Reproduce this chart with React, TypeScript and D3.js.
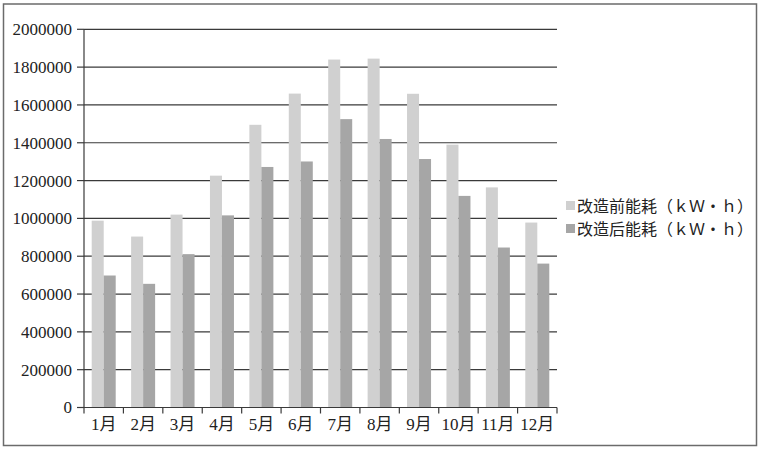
import React from "react";
import * as d3 from "d3";

const months = ["1月", "2月", "3月", "4月", "5月", "6月", "7月", "8月", "9月", "10月", "11月", "12月"];
const before = [988000, 904000, 1020000, 1226000, 1495000, 1660000, 1840000, 1845000, 1659000, 1390000, 1164000, 978000];
const after = [698000, 654000, 811000, 1016000, 1272000, 1301000, 1525000, 1420000, 1314000, 1119000, 846000, 761000];
const yTicks = [0, 200000, 400000, 600000, 800000, 1000000, 1200000, 1400000, 1600000, 1800000, 2000000];
const seriesNames = ["改造前能耗（ｋＷ・ｈ）", "改造后能耗（ｋＷ・ｈ）"];
const colors = ["#d0d0d0", "#a6a6a6"];

const W = 760, H = 449;
const left = 84, right = 557, top = 29.3, bottom = 407.5;
const font = "'Liberation Serif', 'Noto Sans CJK SC', serif";

export default function App() {
  const x = d3.scaleBand<string>().domain(months).range([left, right]).paddingInner(0).paddingOuter(0);
  const y = d3.scaleLinear().domain([0, 2000000]).range([bottom, top]);
  const bw = x.bandwidth();
  const barW = 12;
  const groupOff = (bw - barW * 2) / 2;
  return (
    <svg width={W} height={H} style={{ position: "absolute", left: 0, top: 0, background: "#fff" }}>
      <rect x={3.5} y={4} width={753} height={441.5} fill="#fff" stroke="#6b6b6b" strokeWidth={1.5} />
      {yTicks.map((t) => (
        <g key={t}>
          {t > 0 && <line x1={left} x2={right} y1={y(t)} y2={y(t)} stroke="#3a3a3a" strokeWidth={1.2} />}
          <line x1={left - 7} x2={left} y1={y(t)} y2={y(t)} stroke="#3a3a3a" strokeWidth={1.2} />
          <text x={left - 12} y={y(t)} dy="0.35em" textAnchor="end" fontFamily={font} fontSize={17} fill="#222">
            {t}
          </text>
        </g>
      ))}
      {months.map((m, i) => (
        <g key={m}>
          <rect x={(x(m) as number) + groupOff} y={y(before[i])} width={barW} height={bottom - y(before[i])} fill={colors[0]} />
          <rect x={(x(m) as number) + groupOff + barW} y={y(after[i])} width={barW} height={bottom - y(after[i])} fill={colors[1]} />
        </g>
      ))}
      <line x1={left} x2={left} y1={top} y2={bottom} stroke="#3a3a3a" strokeWidth={1.2} />
      <line x1={left} x2={right} y1={bottom} y2={bottom} stroke="#3a3a3a" strokeWidth={1.2} />
      {months.map((m) => (
        <line key={"t" + m} x1={(x(m) as number) + bw} x2={(x(m) as number) + bw} y1={bottom} y2={bottom + 6} stroke="#3a3a3a" strokeWidth={1.2} />
      ))}
      <line x1={left} x2={left} y1={bottom} y2={bottom + 6} stroke="#3a3a3a" strokeWidth={1.2} />
      {months.map((m) => (
        <text key={"l" + m} x={(x(m) as number) + bw / 2} y={430} textAnchor="middle" fontFamily={font} fontSize={17} fill="#222">
          {m}
        </text>
      ))}
      {seriesNames.map((s, i) => (
        <g key={s}>
          <rect x={566} y={201 + i * 23} width={9} height={9} fill={colors[i]} />
          <text x={577} y={206 + i * 23} dy="0.35em" fontFamily={font} fontSize={16} fill="#222">
            {s}
          </text>
        </g>
      ))}
    </svg>
  );
}
